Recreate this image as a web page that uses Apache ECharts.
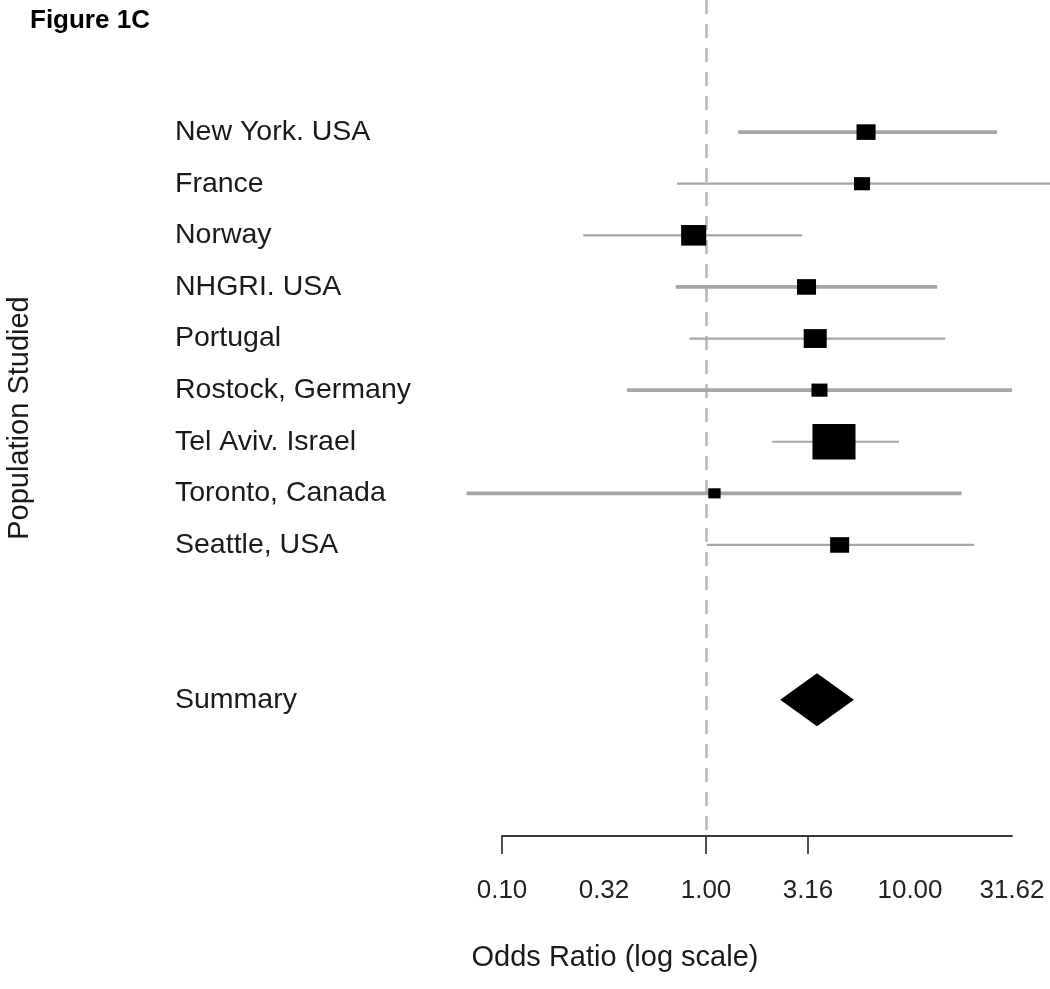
<!DOCTYPE html>
<html>
<head>
<meta charset="utf-8">
<script src="https://cdn.jsdelivr.net/npm/echarts@6/dist/echarts.min.js"></script>
<style>
html,body{margin:0;padding:0;background:#fff;}
#chart{width:1050px;height:989px;}
</style>
</head>
<body>
<div id="chart"></div>
<script>
// ---- data ----
const studies = ['New York. USA', 'France', 'Norway', 'NHGRI. USA', 'Portugal',
                 'Rostock, Germany', 'Tel Aviv. Israel', 'Toronto, Canada', 'Seattle, USA'];
const oddsRatio = [6.09, 5.82, 0.87, 3.11, 3.43, 3.60, 4.24, 1.10, 4.52];
const ciLower   = [1.44, 0.72, 0.25, 0.71, 0.83, 0.41, 2.11, 0.067, 1.01];
const ciUpper   = [26.7, 52.0, 2.96, 13.6, 14.9, 31.6, 8.83, 17.9, 20.6];
const weights   = [7.6, 5.4, 13.2, 7.6, 11.1, 5.4, 38.9, 3.2, 7.6];   // % weight (box area)
const summaryLabel = ['Summary'];
const summaryOR    = [3.50];
const summaryLower = [2.31];
const summaryUpper = [5.31];
const xTickLabelValues = [0.10, 0.3162, 1.00, 3.162, 10.00, 31.62];
const xTickMarkValues  = [0.10, 1.00, 3.162];

// ---- styling (kept apart from data) ----
const ciLineWidths = [3.6, 2.2, 2.2, 3.6, 2.2, 3.6, 2.2, 3.6, 2.2];
const FONT = '"Liberation Sans", Arial, sans-serif';
const boxScale = 6.9;
const boxAspect = 0.82;

// row positions: studies on rows 1..n, summary two blank rows below
const studyRows = studies.map((_, i) => i + 1);
const summaryRow = studies.length + 3;
const rowLabelMap = {};
studyRows.forEach((r, i) => { rowLabelMap[r] = studies[i]; });
rowLabelMap[summaryRow] = summaryLabel[0];

const chart = echarts.init(document.getElementById('chart'), null, {renderer: 'canvas'});

const option = {
  animation: false,
  backgroundColor: '#fff',
  title: {
    text: 'Figure 1C',
    left: 25, top: 3,
    textStyle: {fontFamily: FONT, fontSize: 26, fontWeight: 'bold', color: '#000'}
  },
  grid: {left: 502, right: 38, top: 0, height: 836, containLabel: false},
  xAxis: {
    type: 'log',
    logBase: 10,
    min: 0.1,
    max: 31.6228,
    name: 'Odds Ratio (log scale)',
    nameLocation: 'middle',
    nameGap: 107,
    nameTextStyle: {fontFamily: FONT, fontSize: 29, color: '#1a1a1a', padding: [0, 284, 0, 0]},
    axisLine: {show: true, onZero: false, lineStyle: {color: '#3a3a3a', width: 1.8}},
    axisTick: {show: true, length: 18, customValues: xTickMarkValues,
               lineStyle: {color: '#3a3a3a', width: 1.8}},
    axisLabel: {show: true, customValues: xTickLabelValues, margin: 42,
                fontFamily: FONT, fontSize: 26, color: '#222',
                formatter: v => Number(v).toFixed(2)},
    splitLine: {show: false},
    minorTick: {show: false}
  },
  yAxis: {
    type: 'value',
    inverse: true,
    min: -1.56,
    max: 14.64,
    name: 'Population Studied',
    nameLocation: 'middle',
    nameRotate: 90,
    nameGap: 468,
    nameTextStyle: {fontFamily: FONT, fontSize: 29, color: '#1a1a1a'},
    axisLine: {show: false, onZero: false},
    axisTick: {show: false},
    splitLine: {show: false},
    axisLabel: {
      show: true,
      customValues: studyRows.concat([summaryRow]),
      align: 'left',
      margin: 327,
      fontFamily: FONT, fontSize: 28.5, color: '#1a1a1a',
      formatter: v => rowLabelMap[Math.round(v)] || ''
    }
  },
  series: [
    {
      name: 'CI',
      type: 'custom',
      z: 2,
      data: studies.map((s, i) => [ciLower[i], ciUpper[i], studyRows[i]]),
      encode: {x: [0, 1], y: 2},
      renderItem: function (params, api) {
        const y = api.value(2);
        const p1 = api.coord([api.value(0), y]);
        const p2 = api.coord([api.value(1), y]);
        return {
          type: 'line',
          shape: {x1: p1[0], y1: p1[1], x2: p2[0], y2: p2[1]},
          style: {stroke: '#a6a6a6', lineWidth: ciLineWidths[params.dataIndex]}
        };
      },
      markLine: {
        silent: true,
        symbol: 'none',
        z: 1,
        label: {show: false},
        lineStyle: {type: [14, 10], color: '#b8b8b8', width: 2.6},
        data: [{xAxis: 1}]
      }
    },
    {
      name: 'Odds ratio',
      type: 'custom',
      z: 3,
      data: studies.map((s, i) => [oddsRatio[i], studyRows[i], weights[i]]),
      encode: {x: 0, y: 1},
      renderItem: function (params, api) {
        const c = api.coord([api.value(0), api.value(1)]);
        const w = boxScale * Math.sqrt(api.value(2));
        const h = w * boxAspect;
        return {
          type: 'rect',
          shape: {x: c[0] - w / 2, y: c[1] - h / 2, width: w, height: h},
          style: {fill: '#000'}
        };
      }
    },
    {
      name: 'Summary',
      type: 'custom',
      z: 3,
      data: summaryOR.map((v, i) => [summaryLower[i], v, summaryUpper[i], summaryRow]),
      encode: {x: [0, 1, 2], y: 3},
      renderItem: function (params, api) {
        const y = api.value(3);
        const l = api.coord([api.value(0), y]);
        const c = api.coord([api.value(1), y]);
        const r = api.coord([api.value(2), y]);
        const half = 26.5;
        return {
          type: 'polygon',
          shape: {points: [[l[0], c[1]], [c[0], c[1] - half], [r[0], c[1]], [c[0], c[1] + half]]},
          style: {fill: '#000'}
        };
      }
    }
  ]
};

chart.setOption(option);
</script>
</body>
</html>
